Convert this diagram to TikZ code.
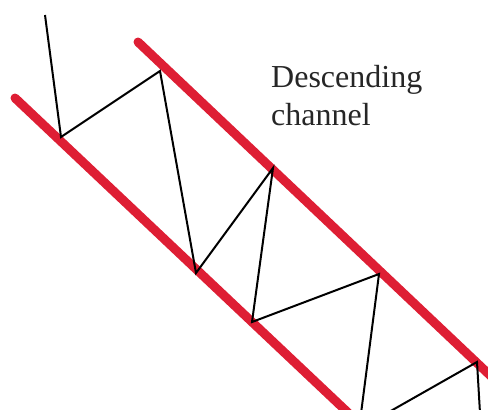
\documentclass[tikz,border=0pt]{standalone}
\usepackage{fontspec}
\setmainfont{Liberation Serif}
\definecolor{chanred}{RGB}{222,30,52}
\begin{document}
\begin{tikzpicture}[x=1pt,y=-1pt,
  chanline/.style={draw=chanred,line width=9pt,line cap=round},
  priceline/.style={draw=black,line width=2pt,line join=miter},
  lbl/.style={anchor=north west,inner sep=0pt,align=left,font=\fontsize{32}{38}\selectfont,text=black!85}]
\useasboundingbox (0,0) rectangle (488,410);
\clip (0,0) rectangle (488,410);
% channel lines
\coordinate (u1) at (138,42);
\coordinate (u2) at (495,380);
\coordinate (l1) at (15,98);
\coordinate (l2) at (360,424);
\draw[chanline] (u1) -- (u2);
\draw[chanline] (l1) -- (l2);
% price zigzag
\coordinate (p0) at (45,15);
\coordinate (p1) at (61,137);
\coordinate (p2) at (160,71);
\coordinate (p3) at (196,273);
\coordinate (p4) at (273,168);
\coordinate (p5) at (252,322);
\coordinate (p6) at (379,274);
\coordinate (p7) at (359,429);
\coordinate (p8) at (477,362);
\coordinate (p9) at (481,430);
\draw[priceline] (p0) -- (p1) -- (p2) -- (p3) -- (p4) -- (p5) -- (p6) -- (p7) -- (p8) -- (p9);
% label
\node[lbl] (t) at (271,65) {Descending\\channel};
\end{tikzpicture}
\end{document}
